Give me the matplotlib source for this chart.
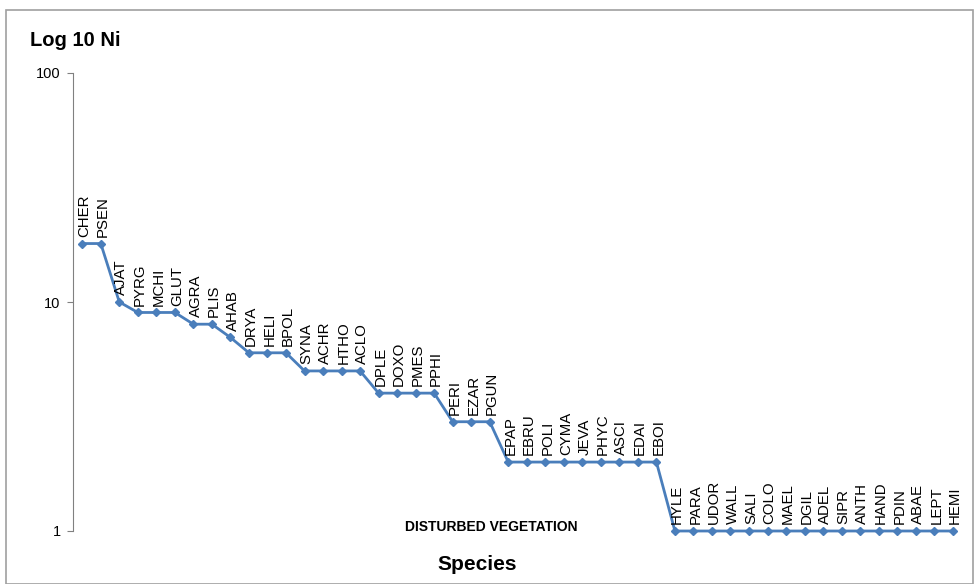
import matplotlib.pyplot as plt
from matplotlib.patches import Rectangle

# Species codes and abundance (Ni), disturbed vegetation
species = [
    "CHER", "PSEN", "AJAT", "PYRG", "MCHI", "GLUT", "AGRA", "PLIS", "AHAB",
    "DRYA", "HELI", "BPOL", "SYNA", "ACHR", "HTHO", "ACLO", "DPLE", "DOXO",
    "PMES", "PPHI", "PERI", "EZAR", "PGUN", "EPAP", "EBRU", "POLI", "CYMA",
    "JEVA", "PHYC", "ASCI", "EDAI", "EBOI", "HYLE", "PARA", "UDOR", "WALL",
    "SALI", "COLO", "MAEL", "DGIL", "ADEL", "SIPR", "ANTH", "HAND", "PDIN",
    "ABAE", "LEPT", "HEMI",
]
abundance = [
    18, 18, 10, 9, 9, 9, 8, 8, 7,
    6, 6, 6, 5, 5, 5, 5, 4, 4,
    4, 4, 3, 3, 3, 2, 2, 2, 2,
    2, 2, 2, 2, 2, 1, 1, 1, 1,
    1, 1, 1, 1, 1, 1, 1, 1, 1,
    1, 1, 1,
]
y_ticks = [1, 10, 100]

W, H = 975, 584
fig = plt.figure(figsize=(W / 100, H / 100), dpi=100)
plt.rcParams["font.family"] = ["Liberation Sans", "DejaVu Sans"]

# outer chart border
fig.patches.append(Rectangle((6 / W, 0), (973 - 6) / W, (H - 10) / H,
                             transform=fig.transFigure, fill=False,
                             edgecolor="#a0a0a0", linewidth=1.2))

ax = fig.add_axes([73 / W, 1 - 531 / H, (962 - 73) / W, (531 - 73) / H])
x = list(range(len(species)))
ax.plot(x, abundance, color="#4a7ebb", linewidth=2, marker="D",
        markersize=4, clip_on=False)

for xi, yi, name in zip(x, abundance, species):
    ax.annotate(name, (xi, yi), xytext=(1.5, 5), textcoords="offset points",
                rotation=90, ha="center", va="bottom", fontsize=10.8)

ax.set_yscale("log")
ax.set_ylim(1, 100)
ax.set_xlim(-0.5, len(species) - 0.5)
ax.set_yticks(y_ticks)
ax.set_yticklabels([str(t) for t in y_ticks], fontsize=10.5)
ax.yaxis.set_minor_locator(plt.NullLocator())
ax.tick_params(axis="y", length=4, color="#808080", pad=5)
ax.set_xticks([])
for s in ["top", "right", "bottom"]:
    ax.spines[s].set_visible(False)
ax.spines["left"].set_color("#808080")

fig.text(30 / W, 1 - 40 / H, "Log 10 Ni", fontsize=14.5, fontweight="bold",
         va="center", ha="left")
fig.text(477 / W, 1 - 564 / H, "Species", fontsize=15, fontweight="bold",
         va="center", ha="center")
fig.text(491 / W, 1 - 527 / H, "DISTURBED VEGETATION", fontsize=10,
         fontweight="bold", va="center", ha="center")

fig.savefig("out.png", dpi=100)
